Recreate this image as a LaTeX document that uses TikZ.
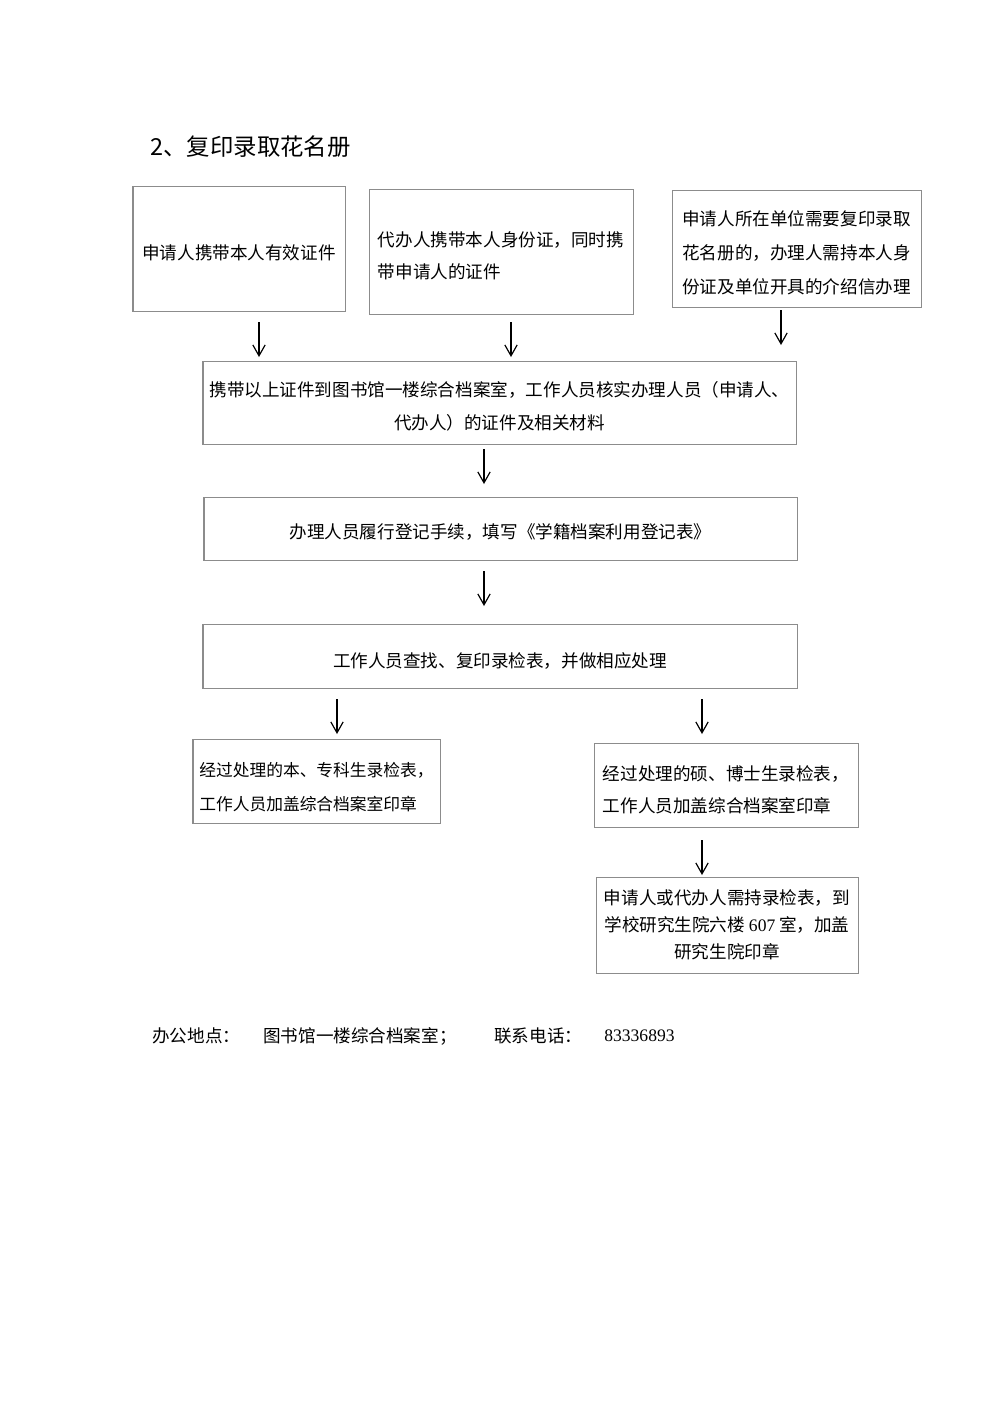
\documentclass[tikz,border=0pt]{standalone}
\usepackage{fontspec}
\newfontfamily\cjk{Noto Sans CJK SC}
\newfontfamily\latserif{Liberation Serif}
\usetikzlibrary{arrows.meta}
\def\px{0.21mm}
\begin{document}
\begin{tikzpicture}[x=0.21mm,y=-0.21mm,
  box/.style={draw=black!45,line width=0.6pt,rectangle,inner sep=0pt},
  txt/.style={inner sep=0pt,font=\fontsize{10.5}{19.5}\cjk},
  flow/.style={line width=0.7pt,-{Straight Barb[length=2.3mm,width=2.6mm,line width=0.7pt]}},
  plain/.style={inner sep=0pt,anchor=west,font=\fontsize{10.5}{12}\cjk}]
\useasboundingbox[fill=white] (0,0) rectangle (1000,1414);

\node[inner sep=0pt,anchor=west,font=\fontsize{14}{16}\cjk] (title) at (150,147) {2、复印录取花名册};

\node[box,minimum width=212*\px,minimum height=125*\px] (b1) at (239,248.5) {};
\node[box,minimum width=264*\px,minimum height=125*\px] (b2) at (501,251.5) {};
\node[box,minimum width=249*\px,minimum height=117*\px] (b3) at (796.5,248.5) {};
\node[box,minimum width=593*\px,minimum height=83*\px] (b4) at (499.5,402.5) {};
\node[box,minimum width=593*\px,minimum height=63*\px] (b5) at (500.5,528.5) {};
\node[box,minimum width=594*\px,minimum height=64*\px] (b6) at (500,656) {};
\node[box,minimum width=247*\px,minimum height=84*\px] (b7) at (316.5,781) {};
\node[box,minimum width=264*\px,minimum height=84*\px] (b8) at (726,785) {};
\node[box,minimum width=262*\px,minimum height=96*\px] (b9) at (727,925) {};

\node[txt] (t1) at ([yshift=-0.84mm]b1.center) {申请人携带本人有效证件};
\node[txt,align=left,font=\fontsize{10.5}{19}\cjk] (t2) at ([yshift=-0.95mm]b2.center) {代办人携带本人身份证，同时携\\带申请人的证件};
\node[txt,align=left,font=\fontsize{10.5}{20.3}\cjk] (t3) at ([yshift=-0.84mm]b3.center) {申请人所在单位需要复印录取\\花名册的，办理人需持本人身\\份证及单位开具的介绍信办理};
\node[txt,align=center,font=\fontsize{10.5}{19.7}\cjk] (t4) at ([yshift=-0.84mm]b4.center) {携带以上证件到图书馆一楼综合档案室，工作人员核实办理人员（申请人、\\代办人）的证件及相关材料};
\node[txt] (t5) at ([yshift=-0.7mm]b5.center) {办理人员履行登记手续，填写《学籍档案利用登记表》};
\node[txt] (t6) at ([yshift=-0.95mm]b6.center) {工作人员查找、复印录检表，并做相应处理};
\node[txt,align=left,font=\fontsize{10}{20.3}\cjk] (t7) at ([yshift=-1.2mm]b7.center) {经过处理的本、专科生录检表，\\工作人员加盖综合档案室印章};
\node[txt,align=left,font=\fontsize{10.5}{19}\cjk] (t8) at ([yshift=-1.05mm]b8.center) {经过处理的硕、博士生录检表，\\工作人员加盖综合档案室印章};
\node[txt,align=center,font=\fontsize{10.5}{16}\cjk] (t9) at (b9.center) {申请人或代办人需持录检表，到\\学校研究生院六楼 {\latserif 607} 室，加盖\\研究生院印章};

\coordinate (s1) at (259,322); \coordinate (e1) at (259,357);
\coordinate (s2) at (511,322); \coordinate (e2) at (511,357);
\coordinate (s3) at (781,310); \coordinate (e3) at (781,345);
\coordinate (s4) at (484,449); \coordinate (e4) at (484,484);
\coordinate (s5) at (484,571); \coordinate (e5) at (484,606);
\coordinate (s6) at (337,699); \coordinate (e6) at (337,734);
\coordinate (s7) at (702,699); \coordinate (e7) at (702,734);
\coordinate (s8) at (702,840); \coordinate (e8) at (702,875);
\foreach \i in {1,...,8} {\draw[flow] (s\i) -- (e\i);}

\node[plain] (f1) at (152,1036) {办公地点：};
\node[plain] (f2) at (263,1036) {图书馆一楼综合档案室；};
\node[plain] (f3) at (494,1036) {联系电话：};
\node[plain,font=\fontsize{10.5}{12}\latserif] (f4) at (604,1036) {83336893};
\end{tikzpicture}
\end{document}
